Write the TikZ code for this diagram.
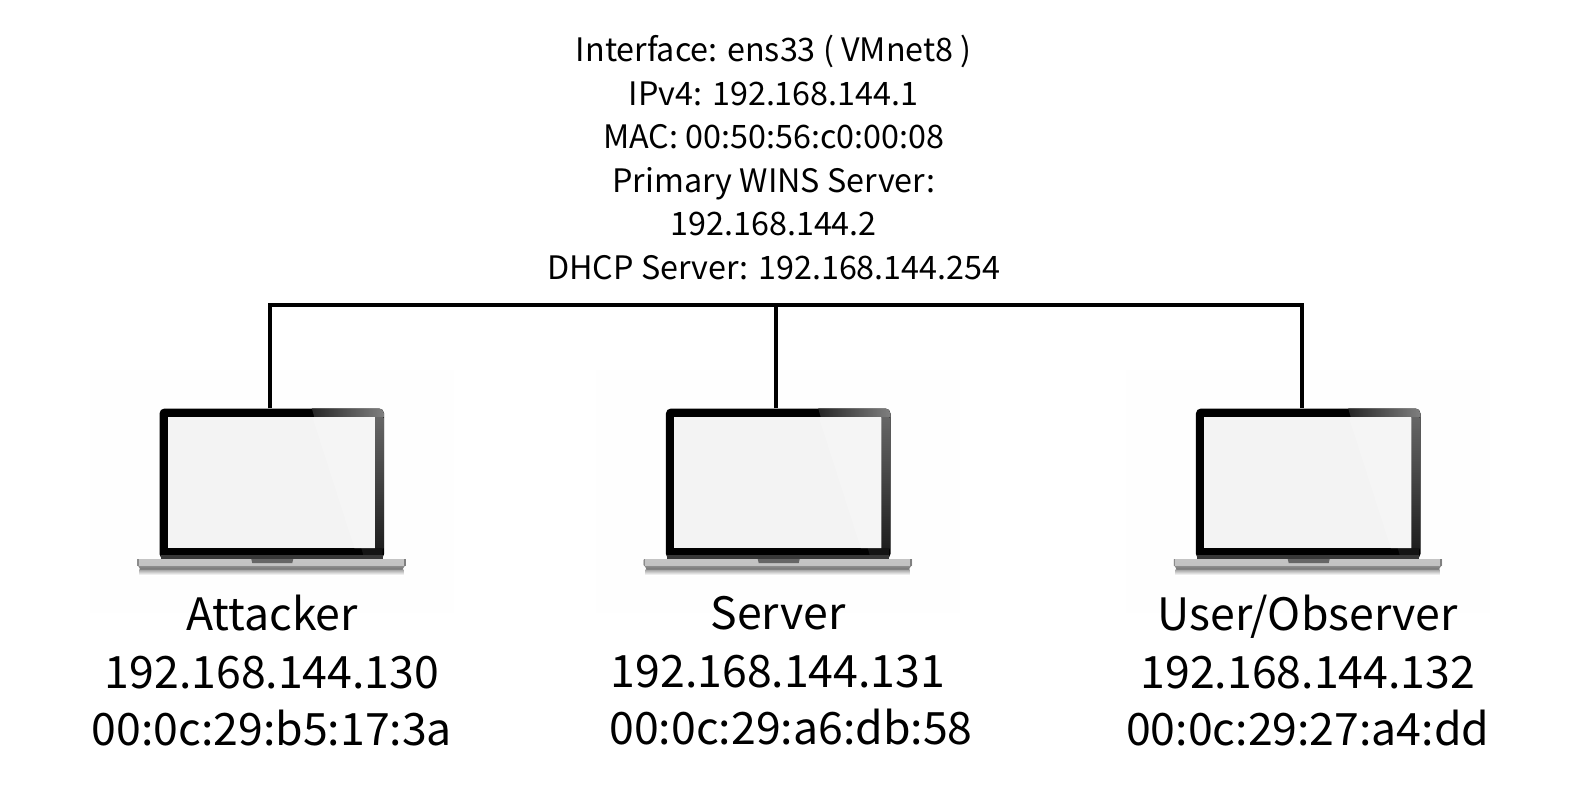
\documentclass[tikz,border=0pt]{standalone}
\usepackage{fontspec}
\setmainfont{Noto Sans CJK SC}
\definecolor{imgbg}{HTML}{FEFEFE}
\definecolor{screenc}{HTML}{F3F3F3}
\definecolor{glare}{HTML}{F5F5F5}
\tikzset{
  lidbox/.style={draw=none,fill=black,rounded corners=5pt,inner sep=0pt,minimum width=224.6pt,minimum height=150.4pt},
  wire/.style={line width=4.3pt,line cap=butt,line join=miter,draw=black},
  toplabel/.style={align=center,inner sep=0pt,font=\fontsize{32.3}{43.5}\selectfont},
  hostlabel/.style={align=center,inner sep=0pt,font=\fontsize{44.6}{57.4}\selectfont}
}
\newcommand{\laptopart}[2]{%
  % #1 = x of lid left, #2 = number
  \begin{scope}[shift={(#1,0)}]
    \fill[imgbg] (-69.5,370) rectangle (294.5,613);
    % shadow under base
    \shade[top color=black!40,bottom color=white] (-20,569) rectangle (244,575);
    % base
    \shade[top color=black!23,bottom color=black!24,rounded corners=0.5pt] (-22,559) rectangle (246.4,566);
    \shade[top color=black!45,bottom color=black!55] (-21,566) -- (245.4,566) -- (243,569.6) -- (-19,569.6) -- cycle;
    \fill[black!45] (-22,559) rectangle (-20.5,566);
    \fill[black!50] (244.5,559) rectangle (246.4,566);
    % lid
    \node[lidbox,anchor=north west] (lid#2) at (0,408.3) {};
    \fill[black] (1.4,550) rectangle (223.4,555);
    \begin{scope}
      \clip[rounded corners=5pt] (0,408.3) rectangle (224.6,570);
      \shade[left color=black!85,right color=black!50] (152.4,408) -- (225,408) -- (225,417) -- (155,417) -- cycle;
      \shade[top color=black!60,bottom color=black!88] (215.6,417) rectangle (224,548);
      \fill[black!92] (202,548) -- (223.4,548) -- (223.4,555) -- (204,555) -- cycle;
    \end{scope}
    \fill[black!78] (1.4,554.5) rectangle (223.4,559);
    \fill[black!60] (92,559) -- (134,559) -- (133,563) -- (93,563) -- cycle;
    % screen
    \fill[screenc] (8.4,417) rectangle (215.6,548);
    \fill[glare] (153,417) -- (215.6,417) -- (215.6,548) -- (195,548) -- cycle;
  \end{scope}}
\begin{document}
\begin{tikzpicture}[x=1pt,y=-1pt]
  \useasboundingbox (0,0) rectangle (1591,810);
  \laptopart{159.3}{1}
  \laptopart{665.7}{2}
  \laptopart{1195.7}{3}

  \coordinate (busL) at (0,305);
  \coordinate (port1) at ([xshift=-2.1pt]lid1.north);
  \coordinate (port2) at ([xshift=-2.3pt]lid2.north);
  \coordinate (port3) at ([xshift=-6.3pt]lid3.north);
  \draw[wire] (port1) -- (port1 |- busL) -- (port3 |- busL) -- (port3);
  \draw[wire] (port2) -- (port2 |- busL);

  \node[toplabel,anchor=center] (info) at (773.7,157.3) {Interface: ens33 ( VMnet8 )\\IPv4: 192.168.144.1\\MAC: 00:50:56:c0:00:08\\Primary WINS Server:\\192.168.144.2\\DHCP Server: 192.168.144.254};

  \node[hostlabel,anchor=center] (host1) at (272,670.7) {Attacker\\192.168.144.130\\00:0c:29:b5:17:3a};
  \node[hostlabel,anchor=center] (host2) at (778,670.7) {Server\\192.168.144.131\\\hspace*{26pt}00:0c:29:a6:db:58};
  \node[hostlabel,anchor=center] (host3) at (1307.8,670.7) {User/Observer\\192.168.144.132\\00:0c:29:27:a4:dd};
\end{tikzpicture}
\end{document}
